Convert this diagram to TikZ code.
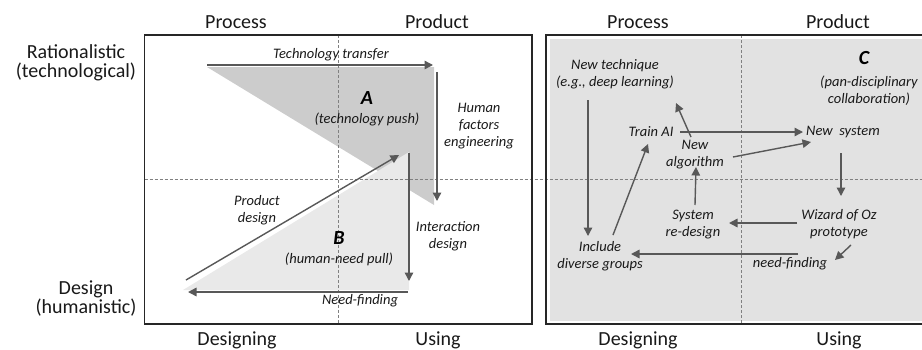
\documentclass[tikz,border=0pt]{standalone}
\usepackage{fontspec}
\setmainfont{Carlito}
\usetikzlibrary{arrows.meta}
\definecolor{fillA}{RGB}{204,204,204}
\definecolor{fillB}{RGB}{233,233,233}
\definecolor{fillC}{RGB}{226,226,226}
\definecolor{arrowgray}{RGB}{88,88,88}
\definecolor{txt}{RGB}{25,25,25}
\begin{document}
\begin{tikzpicture}[x=1pt,y=-1pt,
  lbl/.style={font=\fontsize{20}{19}\selectfont, text=txt, inner sep=0pt, align=center},
  it/.style={font=\fontsize{14.5}{17}\selectfont\itshape, text=txt, inner sep=1pt, align=center},
  big/.style={font=\fontsize{20}{22}\selectfont\bfseries\itshape, text=black, inner sep=0pt},
  arr/.style={draw=arrowgray, line width=1.4pt, -{Triangle[length=8.5pt,width=8.5pt]}},
  grid/.style={draw=gray, dash pattern=on 3pt off 2pt, line width=0.7pt},
  frame/.style={draw=black!85, line width=1.5pt}]
\useasboundingbox (0,0) rectangle (922,349);

% ---------- fills ----------
\fill[fillA] (207,67) -- (434,67) -- (434,205) -- cycle;
\fill[fillB] (183,290) -- (409,152) -- (409,290) -- cycle;
\fill[fillC] (550,39) rectangle (922,321);

% ---------- grid ----------
\draw[grid] (144.5,179) -- (922,179);
\draw[grid] (338,35) -- (338,324);
\draw[grid] (741,35) -- (741,324);

% ---------- frames ----------
\draw[frame] (144.5,35) rectangle (532,324);
\draw[frame] (940,35) -- (546,35) -- (546,324) -- (940,324);

% ---------- axis labels ----------
\node[lbl] (p1) at (236,22) {Process};
\node[lbl] (q1) at (437,22) {Product};
\node[lbl] (p2) at (638,22) {Process};
\node[lbl] (q2) at (838,22) {Product};
\node[lbl] (d1) at (237,340) {Designing};
\node[lbl] (u1) at (438,340) {Using};
\node[lbl] (d2) at (638,340) {Designing};
\node[lbl] (u2) at (839,340) {Using};
\node[lbl] (rat) at (76,63) {Rationalistic\\(technological)};
\node[lbl] (des) at (86,299) {Design\\(humanistic)};

% ---------- left panel ----------
\coordinate (ttS) at (207,65);
\coordinate (ttE) at (433,65);
\coordinate (hfS) at (437,72);
\coordinate (hfE) at (437,201);
\coordinate (pdS) at (186,280);
\coordinate (pdE) at (399,155);
\coordinate (idS) at (409,153);
\coordinate (idE) at (409,281);
\coordinate (nfS) at (408,292);
\coordinate (nfE) at (188,292);

\node[it] (tt) at (331,55) {Technology transfer};
\node[big] (A) at (367,98) {A};
\node[it] (Apush) at (367,119) {(technology push)};
\node[it] (hf) at (479,126) {Human\\factors\\engineering};
\node[it] (pd) at (257,210) {Product\\design};
\node[big] (B) at (339,238) {B};
\node[it] (Bpull) at (339,259) {(human-need pull)};
\node[it] (id) at (448,236) {Interaction\\design};
\node[it] (nf) at (360,301) {Need-finding};

\draw[arr] (ttS) -- (ttE);
\draw[arr] (hfS) -- (hfE);
\draw[arr] (pdS) -- (pdE);
\draw[arr] (idS) -- (idE);
\draw[arr] (nfS) -- (nfE);

% ---------- right panel ----------
\node[big] (C) at (864,58) {C};
\node[it] (pan) at (869,90.5) {(pan-disciplinary\\collaboration)};
\node[it] (tech) at (615,74.5) {New technique\\(e.g., deep learning)};
\node[it] (train) at (651,132) {Train AI};
\node[it] (newsys) at (843,132) {New\ \ system};
\node[it] (alg) at (695,154.5) {New\\algorithm};
\node[it] (redesign) at (693,224.5) {System\\re-design};
\node[it] (wiz) at (839,224.5) {Wizard of Oz\\prototype};
\node[it] (nfr) at (790,264) {need-finding};
\node[it] (incl) at (600,256.5) {Include\\diverse groups};

\coordinate (r1s) at (588,100);  \coordinate (r1e) at (588,236);
\coordinate (r2s) at (680,132);  \coordinate (r2e) at (803,132);
\coordinate (r3s) at (691,137);  \coordinate (r3e) at (676,103);
\coordinate (r4s) at (733,157);  \coordinate (r4e) at (811,142);
\coordinate (r5s) at (613,235);  \coordinate (r5e) at (648,144);
\coordinate (r6s) at (841,153);  \coordinate (r6e) at (841,196);
\coordinate (r7s) at (695,205);  \coordinate (r7e) at (696,167);
\coordinate (r8s) at (797,223);  \coordinate (r8e) at (729,223);
\coordinate (r9s) at (851,245);  \coordinate (r9e) at (835,260);
\coordinate (r10s) at (798,254); \coordinate (r10e) at (631,254);

\draw[arr] (r1s) -- (r1e);
\draw[arr] (r2s) -- (r2e);
\draw[arr] (r3s) -- (r3e);
\draw[arr] (r4s) -- (r4e);
\draw[arr] (r5s) -- (r5e);
\draw[arr] (r6s) -- (r6e);
\draw[arr] (r7s) -- (r7e);
\draw[arr] (r8s) -- (r8e);
\draw[arr] (r9s) -- (r9e);
\draw[arr] (r10s) -- (r10e);
\end{tikzpicture}
\end{document}
